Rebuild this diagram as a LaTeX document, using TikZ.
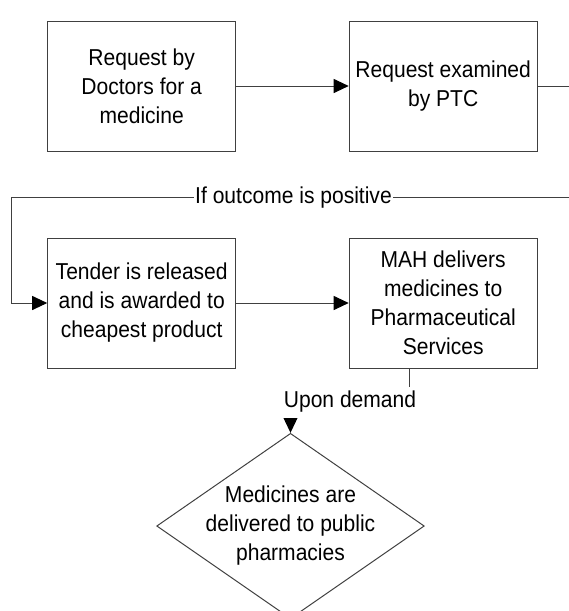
\documentclass[tikz,border=0pt]{standalone}
\usepackage{fontspec}
\setmainfont{Liberation Sans}[FakeStretch = 0.915]
\usetikzlibrary{arrows.meta,shapes.geometric}

\begin{document}
\begin{tikzpicture}[x=1pt, y=-1pt,
	box/.style = {draw = black!75, line width = 1pt, minimum width = 188pt, minimum height = 130pt, align = center, inner sep = 2pt, font = \fontsize{23}{29}\selectfont},
	flow/.style = {draw = black!75, line width = 1pt, -{Triangle[length = 15pt, width = 14pt, color = black]}},
	note/.style = {fill = white, inner xsep = 1pt, inner ysep = 0pt, font = \fontsize{23}{29}\selectfont}]
				\useasboundingbox (0,0) rectangle (569,611);
				\clip (0,0) rectangle (569,611);
				
				\node[box](request) at (141.7,86) {Request by\\Doctors for a\\medicine};
				\node[box](examine) at (443.2,86) {Request examined\\by PTC};
				\node[box](tender) at (141.7,303) {Tender is released\\and is awarded to\\cheapest product};
				\node[box](mah) at (443.2,303) {MAH delivers\\medicines to\\Pharmaceutical\\Services};
				\node[diamond, draw = black!75, line width = 1pt, minimum width = 267.6pt, minimum height = 185.4pt, inner sep = 0pt](deliver) at (290.5,526) {};
				\node[align = center, font = \fontsize{23}{29}\selectfont](delivertext) at (deliver.center) {Medicines are\\delivered to public\\pharmacies};
				
				\coordinate[](outright) at (580,197);
				\coordinate[](backleft) at (11.7,197);
				\coordinate[](demandturn) at (350,402);
				
				\draw[flow] (request) -- (examine);
				\draw[flow] (examine.east) -| (outright) -- (backleft) |- (tender.west);
				\draw[flow] (tender) -- (mah);
				\draw[flow] ([xshift = -33.7pt]mah.south) |- (demandturn) -| (deliver.north);
				
				\node[note](positive) at (293.5,197.5) {If outcome is positive};
				\node[note, minimum height = 31pt](demand) at (demandturn) {Upon demand};
\end{tikzpicture}
\end{document}
